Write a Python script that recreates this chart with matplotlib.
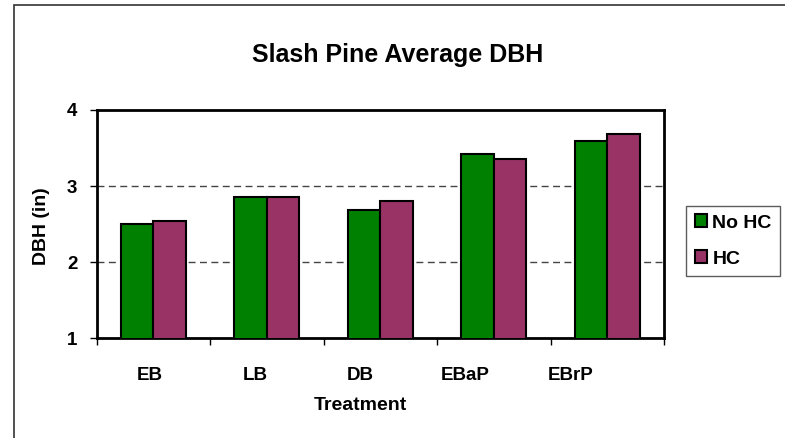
import matplotlib
matplotlib.use("Agg")
import matplotlib.pyplot as plt
from matplotlib.patches import Rectangle
import numpy as np

plt.rcParams.update({
    "font.family": ["Liberation Sans", "DejaVu Sans"],
    "font.weight": "bold",
})

treatments = ["EB", "LB", "DB", "EBaP", "EBrP"]
dbh_no_hc = [2.50, 2.855, 2.68, 3.425, 3.59]
dbh_hc = [2.54, 2.86, 2.80, 3.355, 3.69]
y_ticks = [1, 2, 3, 4]

GREEN = "#008000"
PLUM = "#993366"

W, H = 785, 438
fig = plt.figure(figsize=(W / 100, H / 100), dpi=100)

# outer chart-area frame (left/top edges visible)
fig.patches.append(Rectangle((14 / W, -0.05), 1.1, 1 - 5 / H + 0.05,
                             transform=fig.transFigure, fill=False,
                             edgecolor="#333333", linewidth=1.2))

ax = fig.add_axes([96.7 / W, 1 - 338.3 / H, (664 - 96.7) / W, (338.3 - 110) / H])

x = np.arange(len(treatments))
bw = 0.286
ax.bar(x - bw / 2, dbh_no_hc, bw, color=GREEN, edgecolor="black",
       linewidth=1.5, label="No HC", zorder=3)
ax.bar(x + bw / 2, dbh_hc, bw, color=PLUM, edgecolor="black",
       linewidth=1.5, label="HC", zorder=3)

ax.set_ylim(1, 4)
ax.set_xlim(-0.5, len(treatments) - 0.5)
ax.set_yticks(y_ticks)
ax.set_yticklabels([str(v) for v in y_ticks], fontsize=13.5, fontweight="bold")

# category labels sit on a slightly narrower spacing than the bar groups
label_pos = x * 0.927 - 0.03
ax.set_xticks(label_pos)
ax.set_xticklabels(treatments, fontsize=13.5, fontweight="bold")
ax.set_xticks(np.arange(-0.5, len(treatments)), minor=True)
ax.tick_params(axis="x", which="major", length=0, pad=20.5)
ax.tick_params(axis="x", which="minor", length=5, width=1, direction="out")
ax.tick_params(axis="y", length=5, width=1, direction="out", pad=9)

for v in [2, 3]:
    ax.axhline(v, color="#444444", linewidth=1, dashes=(5, 3.2), zorder=1)

for s in ax.spines.values():
    s.set_linewidth(2)
    s.set_color("black")

fig.text(360 / W, 1 - 410 / H, "Treatment", ha="center", va="baseline",
         fontsize=14, fontweight="bold")
fig.text(41 / W, 1 - 226 / H, "DBH (in)", ha="center", va="center",
         rotation=90, fontsize=14, fontweight="bold")
fig.text(397.5 / W, 1 - 62 / H, "Slash Pine Average DBH", ha="center",
         va="baseline", fontsize=18, fontweight="bold")

leg = ax.legend(loc="center left", bbox_to_anchor=(686 / W, 1 - 241 / H),
                bbox_transform=fig.transFigure, frameon=True, fancybox=False,
                borderpad=0.45, borderaxespad=0, handlelength=0.65,
                handleheight=0.65, handletextpad=0.25, labelspacing=0.95,
                prop={"weight": "bold", "size": 14})
leg.get_frame().set_edgecolor("#333333")
leg.get_frame().set_linewidth(1)
for p in leg.get_patches():
    p.set_linewidth(1.5)

fig.savefig("out.png", dpi=100)
